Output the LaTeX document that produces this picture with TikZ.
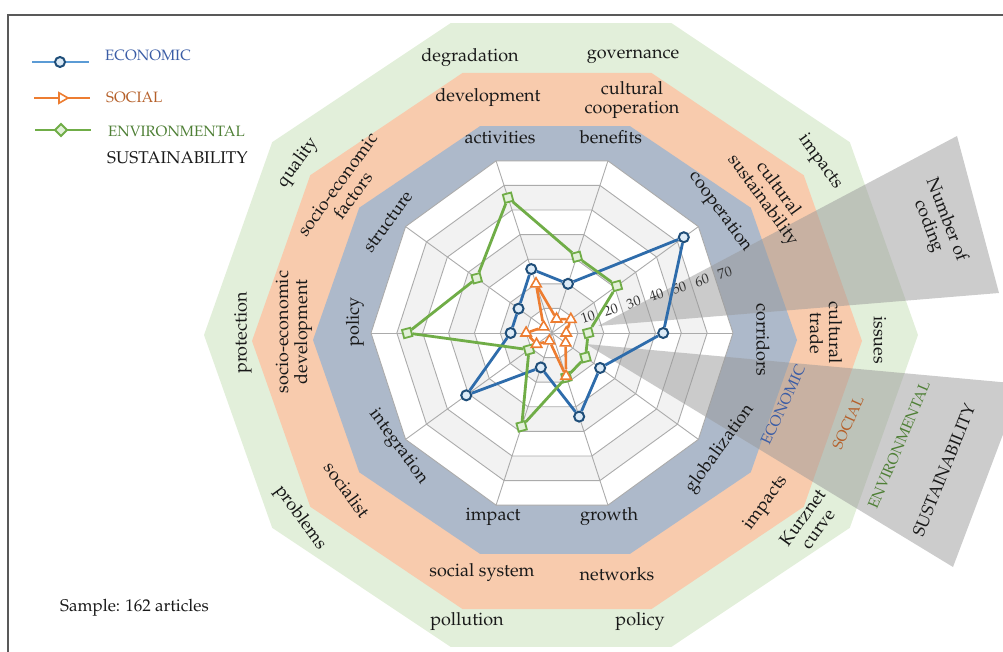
\documentclass[tikz,border=0pt]{standalone}
\usepackage[T1]{fontenc}
\renewcommand{\rmdefault}{ppl}
\usepackage{tikz}
\usetikzlibrary{calc, shapes.geometric}
\usepackage{xcolor}
\definecolor{envband}{HTML}{E2EFDA}
\definecolor{socband}{HTML}{F8CBAD}
\definecolor{ecoband}{HTML}{ADB9CA}
\definecolor{gridgray}{HTML}{ABABAB}
\definecolor{ringfill}{HTML}{F2F2F2}
\definecolor{ecoline}{HTML}{2E6CAB}
\definecolor{ecodark}{HTML}{1F4E79}
\definecolor{ecofill}{HTML}{DDEBF7}
\definecolor{ecolegend}{HTML}{5B9BD5}
\definecolor{socline}{HTML}{ED7D31}
\definecolor{envline}{HTML}{70AD47}
\definecolor{envfill}{HTML}{E2F0D9}
\definecolor{ecotext}{HTML}{3B5DA6}
\definecolor{soctext}{HTML}{B5602A}
\definecolor{envtext}{HTML}{4E7F35}
\definecolor{framegray}{HTML}{595959}

\begin{document}
\begin{tikzpicture}[x=1pt,y=1pt]
				\tikzstyle{ecomark} = [circle,fill=ecofill,draw=ecodark,line width=2pt,inner sep=0pt,minimum size=10pt]
				\tikzstyle{socmark} = [regular polygon,regular polygon sides=3,fill=white,draw=socline,line width=1.6pt,inner sep=0pt,minimum size=12pt]
				\tikzstyle{envmark} = [rectangle,fill=envfill,draw=envline,line width=1.8pt,inner sep=0pt,minimum size=8.5pt,rotate=15]
				\tikzstyle{ecoedge} = [draw=ecoline,line width=2.8pt]
				\tikzstyle{socedge} = [draw=socline,line width=2.6pt]
				\tikzstyle{envedge} = [draw=envline,line width=2.8pt]
				\tikzstyle{gridline} = [draw=gridgray,line width=0.9pt]
				\tikzstyle{cat} = [inner sep=0pt,align=center,text=black!90,font=\fontsize{18}{19}\selectfont]
				\tikzstyle{axisnum} = [inner sep=0pt,text=black!80,font=\fontsize{14}{14}\selectfont]
				\tikzstyle{legtext} = [inner sep=0pt,anchor=west,font=\fontsize{15}{15}\selectfont]
				\tikzstyle{callout} = [fill=black!40,fill opacity=0.5]
				\useasboundingbox (0,0) rectangle (1003,651);
				\clip (0,0) rectangle (1003,651);
				% frame
				\draw[framegray,line width=1.6pt] (8,-5) -- (8,636) -- (1010,636);
				% bands
				\fill[envband] plot[samples at={0,36,...,324}] ({561+357*cos(\x)},{316+328*sin(\x)}) -- cycle;
				\fill[socband] plot[samples at={0,36,...,324}] ({557+305*cos(\x)},{310+282*sin(\x)}) -- cycle;
				\fill[ecoband] plot[samples at={0,36,...,324}] ({555+242*cos(\x)},{311+225*sin(\x)}) -- cycle;
				% radar grid
				\begin{scope}[shift={(552,318)}]
				\foreach \k/\c in {7/white,6/ringfill,5/white,4/ringfill,3/white,2/ringfill,1/white}
					\fill[\c] plot[samples at={0,36,...,324}] (\x:{\k*25.857}) -- cycle;
				\foreach \k in {1,...,7}
					\draw[gridline] plot[samples at={0,36,...,324}] (\x:{\k*25.857}) -- cycle;
				\foreach \a in {0,36,...,324}
					\draw[gridline] (0,0) -- (\a:181);
				\end{scope}
				% callouts
				\fill[callout] (598,325) -- (957,515) -- (999,358) -- cycle;
				\fill[callout] (586,307) -- (1022,267) -- (953,84) -- cycle;
				% axis numbers
				\foreach \n [count=\k from 0] in {10,20,...,70}
					\node[axisnum,rotate=18] (t\n) at ({588+22.8*\k},{334+7.3*\k}) {\n};
				% series
				\begin{scope}[shift={(552,318)}]
				\foreach \v [count=\i from 0] in {43,63,20,26,16,16,41,14,34,23}
					\node[ecomark] (e\i) at ({36*\i}:{\v*2.5857}) {};
				\foreach \v [count=\i from 0] in {14,31,31,55,36,56,11,38,18,16}
					\node[envmark] (g\i) at ({36*\i}:{\v*2.5857}) {};
				\foreach \v [count=\i from 0] in {5.5,9,5.7,20,4,10,7.4,3.2,17.6,6.5}
					\node[socmark] (s\i) at ({36*\i}:{\v*2.5857}) {};
				\end{scope}
				\draw[ecoedge] (e0) -- (e1) -- (e2) -- (e3) -- (e4) -- (e5) -- (e6) -- (e7) -- (e8) -- (e9) -- (e0);
				\draw[envedge] (g0) -- (g1) -- (g2) -- (g3) -- (g4) -- (g5) -- (g6) -- (g7) -- (g8) -- (g9) -- (g0);
				\draw[socedge] (s0) -- (s1) -- (s2) -- (s3) -- (s4) -- (s5) -- (s6) -- (s7) -- (s8) -- (s9) -- (s0);
				% economic labels
				\node[cat,rotate=-90] (b0) at (763,311) {corridors};
				\node[cat,rotate=-54] (b1) at (720,439) {cooperation};
				\node[cat] (b2) at (611,514) {benefits};
				\node[cat] (b3) at (500,514) {activities};
				\node[cat,rotate=54] (b4) at (388,429) {structure};
				\node[cat,rotate=90] (b5) at (355,329) {policy};
				\node[cat,rotate=-54] (b6) at (398,204) {integration};
				\node[cat] (b7) at (493,134) {impact};
				\node[cat] (b8) at (609,134) {growth};
				\node[cat,rotate=54] (b9) at (720,202) {globalization};
				% social labels
				\node[cat,rotate=-90] (o0) at (826,318) {cultural\\trade};
				\node[cat,rotate=-54] (o1) at (770,456) {cultural\\sustainability};
				\node[cat] (o2) at (632,551) {cultural\\cooperation};
				\node[cat] (o3) at (488,553) {development};
				\node[cat,rotate=54] (o4) at (345,461) {socio-economic\\factors};
				\node[cat,rotate=90] (o5) at (294,319) {socio-economic\\development};
				\node[cat,rotate=-54] (o6) at (347,161) {socialist};
				\node[cat] (o7) at (482,78) {social system};
				\node[cat] (o8) at (617,77) {networks};
				\node[cat,rotate=54] (o9) at (766,148) {impacts};
				% environmental labels
				\node[cat,rotate=-90] (v0) at (880,311) {issues};
				\node[cat,rotate=-54] (v1) at (820,489) {impacts};
				\node[cat] (v2) at (633,594) {governance};
				\node[cat] (v3) at (470,593) {degradation};
				\node[cat,rotate=54] (v4) at (298,488) {quality};
				\node[cat,rotate=90] (v5) at (243,318) {protection};
				\node[cat,rotate=-54] (v6) at (300,133) {problems};
				\node[cat] (v7) at (467,29) {pollution};
				\node[cat] (v8) at (640,29) {policy};
				\node[cat,rotate=54] (v9) at (810,128) {Kurznet\\curve};
				% callout texts
				\node[cat,rotate=-69] (ncod) at (937,428) {Number of\\coding};
				\node[legtext,anchor=center,text=ecotext,rotate=65] (keco) at (783,246) {ECONOMIC};
				\node[legtext,anchor=center,text=soctext,rotate=66] (ksoc) at (848,228) {SOCIAL};
				\node[legtext,anchor=center,text=envtext,rotate=67] (kenv) at (899,206) {ENVIRONMENTAL};
				\node[legtext,anchor=center,text=black!90,font=\fontsize{17}{17}\selectfont,rotate=68] (ksus) at (944,181) {SUSTAINABILITY};
				% legend
				\coordinate (la1) at (32,589);
				\coordinate (la2) at (89,589);
				\coordinate (lb1) at (34,553);
				\coordinate (lb2) at (90,553);
				\coordinate (lc1) at (35,521);
				\coordinate (lc2) at (91,521);
				\draw[ecolegend,line width=2.2pt] (la1) -- (la2);
				\draw[socline,line width=2.2pt] (lb1) -- (lb2);
				\draw[envline,line width=2.2pt] (lc1) -- (lc2);
				\node[ecomark] (lm1) at (60,589) {};
				\node[socmark,shape border rotate=-90] (lm2) at (62,553) {};
				\node[envmark,rotate=30] (lm3) at (61,521) {};
				\node[legtext,text=ecotext] (leco) at (105,596) {ECONOMIC};
				\node[legtext,text=soctext] (lsoc) at (106,554) {SOCIAL};
				\node[legtext,text=envtext] (lenv) at (108,520) {ENVIRONMENTAL};
				\node[legtext,text=black!90,font=\fontsize{17}{17}\selectfont] (lsus) at (107,493) {SUSTAINABILITY};
				\node[cat,anchor=west,font=\fontsize{17}{17}\selectfont] (smp) at (60,43) {Sample: 162 articles};
\end{tikzpicture}
\end{document}
